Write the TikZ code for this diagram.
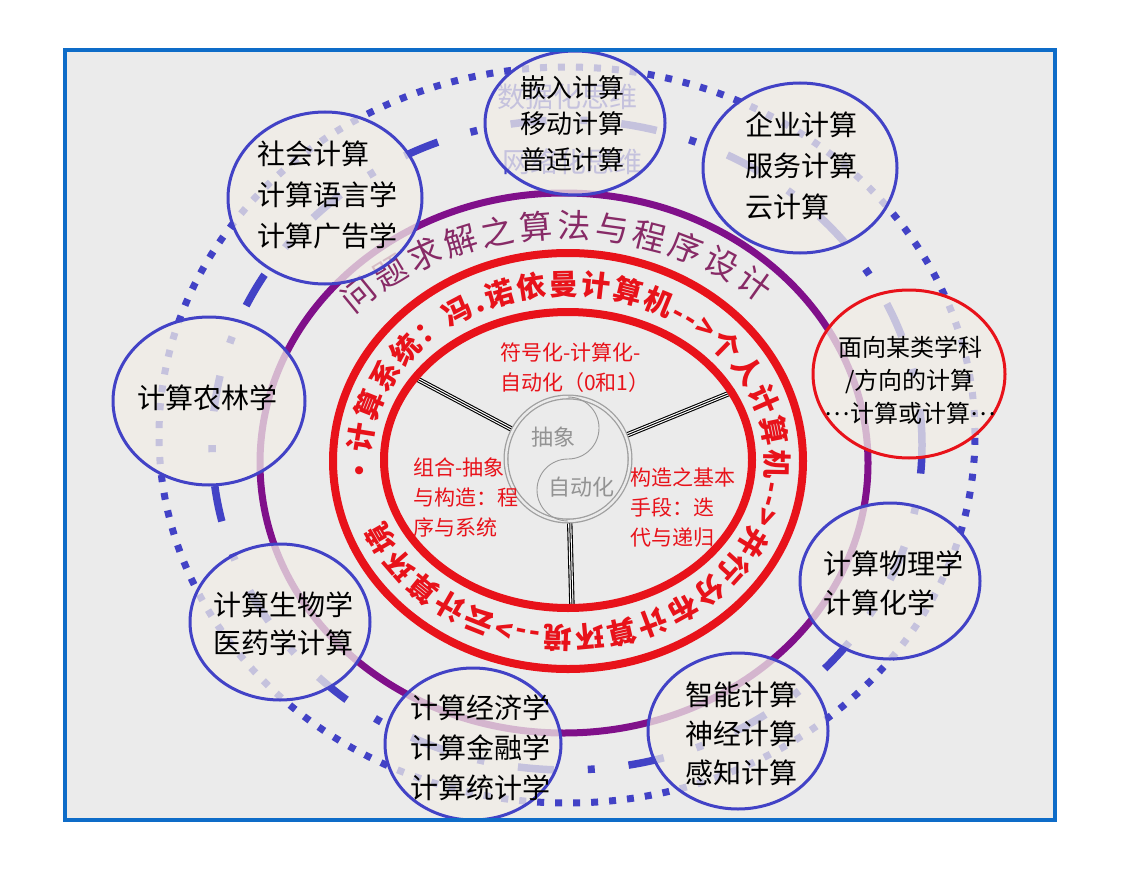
\documentclass[tikz,border=0pt]{standalone}
\usepackage{fontspec}
\newfontfamily\cjk{Noto Sans CJK SC}
\usetikzlibrary{shapes.geometric,decorations.text}
\definecolor{frameblue}{RGB}{14,108,200}
\definecolor{panel}{RGB}{235,235,235}
\definecolor{ringblue}{RGB}{66,66,198}
\definecolor{plum}{RGB}{128,16,138}
\definecolor{plumtext}{RGB}{135,42,102}
\definecolor{sysred}{RGB}{232,18,26}
\definecolor{beige}{RGB}{241,237,230}
\newcommand\bandfont{\cjk\bfseries\fontsize{29}{29}\selectfont}
\newcommand\arcfont{\cjk\fontsize{33}{33}\selectfont}
\newcommand\middots{\raisebox{0.3em}{…}}

\begin{document}
\begin{tikzpicture}[x=1pt, y=-1pt,
    bubble/.style={ellipse, draw=ringblue, line width=3pt, fill=beige, fill opacity=0.75, inner sep=0pt},
    bubtext/.style={font=\cjk\fontsize{28}{41}\selectfont, align=left, inner sep=0pt},
    ghost/.style={font=\cjk\fontsize{28}{28}\selectfont, text=ringblue},
    redtext/.style={font=\cjk\fontsize{21}{30}\selectfont, align=left, text=sysred, inner sep=0pt, anchor=west},
    hubtext/.style={font=\cjk\fontsize{22}{22}\selectfont, text=gray!85},
    hub/.style={circle, draw=gray!75, line width=1.3pt, double=panel, double distance=2.4pt, minimum size=124pt, inner sep=0pt, outer sep=2.5pt},
    dotring/.style={ringblue, line width=7pt, dash pattern=on 7pt off 11pt},
    dashring/.style={ringblue, line width=7.5pt, dash pattern=on 36pt off 34pt on 7pt off 34pt}
]
\useasboundingbox (0,0) rectangle (1132,880);
\fill[panel] (65,50) rectangle (1055,820);

\draw[dotring] (567,435) ellipse[x radius=408pt, y radius=368pt];
\draw[dashring] (567,445) ellipse[x radius=355pt, y radius=325pt];
\draw[plum, line width=7pt] (564,463) ellipse[x radius=304pt, y radius=270pt];
\path[decorate, decoration={text along path, text align=fit to path, text color=plumtext,
    text={|\arcfont|问题求解之算法与程序设计}}]
    (564,463) ++(139:278pt and 225pt) arc[start angle=139, end angle=45, x radius=278pt, y radius=225pt];

\node[ghost] (shuju) at (567,97) {数据化思维};
\node[ghost] (wangluo) at (572,162) {网络化思维};

\node[bubble, minimum width=180pt, minimum height=144pt] (qianru) at (575,123) {};
\node[bubble, minimum width=194pt, minimum height=170pt] (qiye) at (800,168) {};
\node[bubble, minimum width=194pt, minimum height=172pt] (shehui) at (325,198) {};
\node[bubble, minimum width=192pt, minimum height=168pt] (nonglin) at (209,401) {};
\node[bubble, draw=sysred, minimum width=192pt, minimum height=168pt] (mianxiang) at (909,374) {};
\node[bubble, minimum width=180pt, minimum height=156pt] (wuli) at (890,581) {};
\node[bubble, minimum width=180pt, minimum height=156pt] (shengwu) at (280,622) {};
\node[bubble, minimum width=176pt, minimum height=152pt] (jingji) at (473,744) {};
\node[bubble, minimum width=180pt, minimum height=156pt] (zhineng) at (738,731) {};

\node[bubtext, font=\cjk\fontsize{26}{36}\selectfont] (qianruT) at (572,124) {嵌入计算\\移动计算\\普适计算};
\node[bubtext, anchor=west] (qiyeT) at (745,166) {企业计算\\服务计算\\云计算};
\node[bubtext, anchor=west] (shehuiT) at (257,195) {社会计算\\计算语言学\\计算广告学};
\node[bubtext] (nonglinT) at (207,398) {计算农林学};
\node[bubtext, align=center, font=\cjk\fontsize{24}{33}\selectfont] (mianxiangT) at (910,380) {面向某类学科\\/方向的计算\\\middots 计算或计算\middots};
\node[bubtext, anchor=west, font=\cjk\fontsize{28}{39}\selectfont] (wuliT) at (823,583) {计算物理学\\计算化学};
\node[bubtext, anchor=west, font=\cjk\fontsize{28}{38}\selectfont] (shengwuT) at (213,624) {计算生物学\\医药学计算};
\node[bubtext, anchor=west, font=\cjk\fontsize{28}{40}\selectfont] (jingjiT) at (410,748) {计算经济学\\计算金融学\\计算统计学};
\node[bubtext, anchor=west, font=\cjk\fontsize{28}{39}\selectfont] (zhinengT) at (685,734) {智能计算\\神经计算\\感知计算};

\coordinate (spA) at (417,379);
\coordinate (spB) at (735,391);
\coordinate (spC) at (572,608);
\node[hub] (hub) at (568,459) {};
\foreach \e in {spA,spB,spC}{
  \draw[line width=5.4pt] (hub) -- (\e);
  \draw[white, line width=3.2pt] (hub) -- (\e);
  \draw[line width=1pt] (hub) -- (\e);
}
\draw[gray!80, line width=0.9pt] (568,397) arc[start angle=90, end angle=-90, radius=31pt] arc[start angle=90, end angle=270, radius=31pt];
\node[hubtext] (chouxiang) at (553,437) {抽象};
\node[hubtext] (zidong) at (581,487) {自动化};

\draw[sysred, line width=8pt] (568,461) ellipse[x radius=235pt, y radius=208pt];
\draw[sysred, line width=8pt] (568,460) ellipse[x radius=184pt, y radius=148pt];
\path[decorate, decoration={text along path, text align=fit to path, text color=sysred,
    text={|\bandfont|·计算系统：冯.诺依曼计算机-->个人计算机-->并行分布计算环境-->云计算环境}}]
    (568,461) ++(188:198pt and 166pt) arc[start angle=188, end angle=-159, x radius=198pt, y radius=166pt];

\node[redtext] (fuhao) at (500,368) {符号化-计算化-\\自动化（0和1）};
\node[redtext] (zuhe) at (413,498) {组合-抽象\\与构造：程\\序与系统};
\node[redtext] (gouzao) at (630,508) {构造之基本\\手段：迭\\代与递归};

\draw[frameblue, line width=4.5pt] (65,50) rectangle (1055,820);
\end{tikzpicture}
\end{document}
